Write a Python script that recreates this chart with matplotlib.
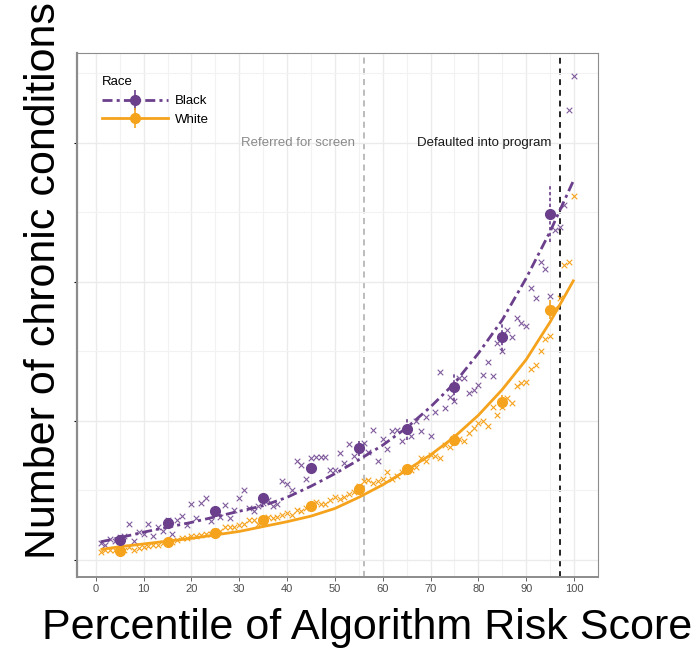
import numpy as np
import matplotlib
matplotlib.use("Agg")
import matplotlib.pyplot as plt
from matplotlib.lines import Line2D

plt.rcParams['font.family'] = ['Liberation Sans', 'DejaVu Sans']

PURPLE = '#6B3F8C'
ORANGE = '#F5A31D'
DASHDOT = (0, (3.6, 1.5, 1.1, 1.5))

# percentile of risk score, 1..100
pct = np.arange(1, 101)

# mean chronic conditions per percentile
black_pts = [0.24, 0.22, 0.30, 0.27, 0.33, 0.34, 0.51, 0.27, 0.40, 0.38,
             0.52, 0.34, 0.48, 0.42, 0.58, 0.37, 0.58, 0.63, 0.50, 0.81,
             0.61, 0.82, 0.89, 0.56, 0.68, 0.62, 0.79, 0.60, 0.72, 0.89,
             1.00, 0.74, 0.70, 0.78, 0.82, 0.86, 0.78, 0.80, 1.14, 1.09,
             1.00, 1.42, 1.36, 1.16, 1.47, 1.48, 1.48, 1.48, 1.30, 1.30,
             1.54, 1.40, 1.66, 1.50, 1.62, 1.68, 1.55, 1.87, 1.42, 1.74,
             1.60, 1.86, 1.87, 1.71, 1.90, 1.78, 2.00, 1.85, 2.05, 1.78,
             2.13, 2.70, 2.18, 2.35, 2.28, 2.61, 2.61, 2.40, 2.45, 2.52,
             2.66, 2.85, 2.64, 3.12, 3.00, 3.31, 3.21, 3.48, 3.40, 3.37,
             3.91, 3.76, 4.29, 4.18, 3.79, 4.75, 4.79, 5.10, 6.47, 6.96]
white_pts = [0.12, 0.14, 0.15, 0.14, 0.15, 0.15, 0.18, 0.14, 0.17, 0.18,
             0.20, 0.22, 0.22, 0.25, 0.26, 0.26, 0.28, 0.31, 0.31, 0.34,
             0.35, 0.36, 0.38, 0.37, 0.41, 0.42, 0.47, 0.48, 0.48, 0.50,
             0.52, 0.57, 0.57, 0.52, 0.58, 0.62, 0.60, 0.62, 0.65, 0.67,
             0.65, 0.72, 0.70, 0.74, 0.76, 0.84, 0.80, 0.81, 0.86, 0.91,
             0.87, 0.91, 0.95, 0.97, 1.06, 1.13, 1.15, 1.10, 1.13, 1.16,
             1.27, 1.16, 1.20, 1.26, 1.28, 1.30, 1.33, 1.47, 1.42, 1.51,
             1.49, 1.46, 1.65, 1.62, 1.70, 1.74, 1.71, 1.82, 1.90, 1.97,
             2.00, 1.93, 2.20, 2.09, 2.20, 2.33, 2.25, 2.50, 2.55, 2.56,
             2.74, 2.81, 3.01, 3.17, 3.22, 3.62, 3.77, 4.24, 4.29, 5.23]

# decile means with confidence intervals
dec_pct = [5, 15, 25, 35, 45, 55, 65, 75, 85, 95]
dec_black = [0.29, 0.53, 0.71, 0.89, 1.32, 1.61, 1.88, 2.48, 3.21, 4.97]
dec_white = [0.13, 0.26, 0.39, 0.57, 0.77, 1.02, 1.31, 1.73, 2.27, 3.60]
ci_black = [0.03, 0.05, 0.05, 0.06, 0.07, 0.12, 0.15, 0.20, 0.20, 0.40]
ci_white = [0.02, 0.02, 0.03, 0.03, 0.04, 0.05, 0.06, 0.08, 0.10, 0.14]

# smoothed fit
fit_pct = [1, 5, 10, 15, 20, 25, 30, 35, 40, 45, 50, 55, 60, 65, 70, 75,
           80, 85, 90, 95, 100]
fit_black = [0.26, 0.32, 0.40, 0.47, 0.54, 0.62, 0.70, 0.78, 0.90, 1.06,
             1.24, 1.44, 1.65, 1.90, 2.20, 2.54, 2.97, 3.45, 4.05, 4.72, 5.47]
fit_white = [0.15, 0.19, 0.23, 0.27, 0.31, 0.36, 0.41, 0.48, 0.55, 0.63,
             0.74, 0.90, 1.08, 1.29, 1.51, 1.77, 2.08, 2.45, 2.88, 3.42, 4.03]

screen_cut = 56
program_cut = 97

fig = plt.figure(figsize=(6.99, 6.51), dpi=100)
ax = fig.add_axes([0.110, 0.1137, 0.745, 0.805])

ax.set_xlim(-3.95, 104.95)
ax.set_ylim(-0.245, 7.29)

ax.set_xticks(np.arange(0, 101, 10))
ax.set_xticks(np.arange(5, 101, 10), minor=True)
ax.set_yticks([0, 2, 4, 6])
ax.set_yticks([1, 3, 5, 7], minor=True)
ax.set_yticklabels([])
ax.grid(which='major', color='#EBEBEB', lw=1.0, zorder=0)
ax.grid(which='minor', color='#F2F2F2', lw=0.8, zorder=0)
ax.tick_params(axis='x', which='major', labelsize=8, labelcolor='#4D4D4D',
               color='#4D4D4D', length=3, width=0.6, pad=2)
ax.tick_params(axis='y', which='major', color='black', length=2.5, width=0.8)
ax.tick_params(which='minor', length=0)
for s in ax.spines.values():
    s.set_color('#8C8C8C')
    s.set_linewidth(0.8)
ax.spines['left'].set_linewidth(1.6)
ax.spines['bottom'].set_linewidth(1.4)

# cutoffs
ax.axvline(screen_cut, color='#AAAAAA', lw=1.1, ls=(0, (4, 3)), zorder=1)
ax.axvline(program_cut, color='#222222', lw=1.4, ls=(0, (3, 2.5)), zorder=1)
ax.text(screen_cut - 1.8, 6.0, 'Referred for screen', color='#8A8A8A',
        fontsize=9.5, ha='right', va='center')
ax.text(program_cut - 1.8, 6.0, 'Defaulted into program', color='#1A1A1A',
        fontsize=9.5, ha='right', va='center')

# raw percentile points
ax.scatter(pct, white_pts, marker='x', s=16, lw=0.8, color=ORANGE, zorder=2)
ax.scatter(pct, black_pts, marker='x', s=16, lw=0.8, color=PURPLE, alpha=0.85,
           zorder=2)

# fits
ax.plot(fit_pct, fit_white, color=ORANGE, lw=2.0, zorder=3,
        solid_capstyle='butt')
ax.plot(fit_pct, fit_black, color=PURPLE, lw=2.0, ls=DASHDOT, zorder=3)

# decile means
lo_w = np.array(dec_white) - np.array(ci_white)
hi_w = np.array(dec_white) + np.array(ci_white)
lo_b = np.array(dec_black) - np.array(ci_black)
hi_b = np.array(dec_black) + np.array(ci_black)
ax.vlines(dec_pct, lo_w, hi_w, color=ORANGE, lw=1.2, zorder=4)
ax.vlines(dec_pct, lo_b, hi_b, color=PURPLE, lw=1.2, ls=(0, (2, 1.5)), zorder=4)
ax.plot(dec_pct, dec_white, 'o', ms=7, color=ORANGE, zorder=5)
ax.plot(dec_pct, dec_black, 'o', ms=7, color=PURPLE, zorder=5)

# legend
h_black = (Line2D([], [], color=PURPLE, lw=2.0, ls=DASHDOT),
           Line2D([], [], color=PURPLE, marker='|', ms=14, mew=1.2, ls='none'),
           Line2D([], [], color=PURPLE, marker='o', ms=7, ls='none'))
h_white = (Line2D([], [], color=ORANGE, lw=2.0),
           Line2D([], [], color=ORANGE, marker='|', ms=14, mew=1.2, ls='none'),
           Line2D([], [], color=ORANGE, marker='o', ms=7, ls='none'))
leg = ax.legend([h_black, h_white], ['Black', 'White'], title='Race',
                loc='upper left', bbox_to_anchor=(0.026, 0.978), frameon=False,
                fontsize=9.5, title_fontsize=9.5, handlelength=5.0,
                handletextpad=0.5, labelspacing=0.5)
leg._legend_box.align = 'left'

fig.text(44 / 699, 1 - 281 / 651, 'Number of chronic conditions',
         rotation=90, fontsize=31, ha='center', va='center')
fig.text(367 / 699, 1 - 628 / 651, 'Percentile of Algorithm Risk Score',
         fontsize=31, ha='center', va='center')

fig.savefig('out.png', dpi=100)
